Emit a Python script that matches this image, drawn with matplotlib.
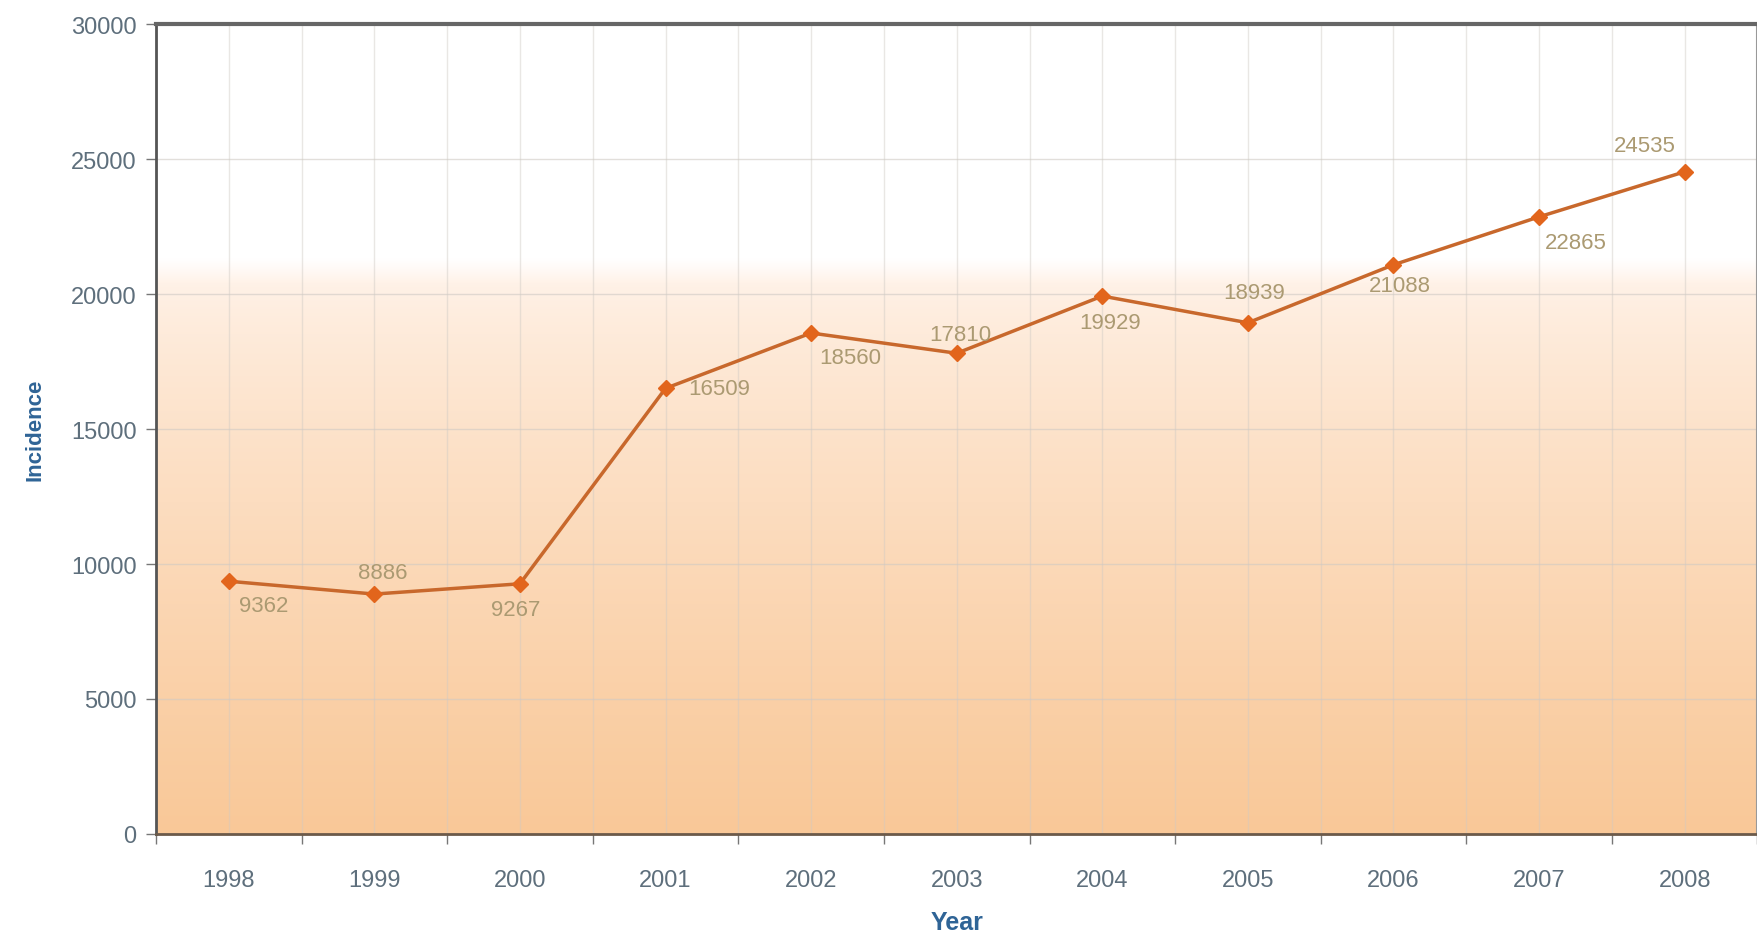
import numpy as np
import matplotlib
matplotlib.use('Agg')
import matplotlib.pyplot as plt

# data
years = ['1998', '1999', '2000', '2001', '2002', '2003', '2004', '2005', '2006', '2007', '2008']
incidence = [9362, 8886, 9267, 16509, 18560, 17810, 19929, 18939, 21088, 22865, 24535]
yticks = [0, 5000, 10000, 15000, 20000, 25000, 30000]
# label offsets in pixels (dx, dy), dy positive = up
label_offsets = [(35, -24), (8, 22), (-4, -26), (54, 0), (39, -24), (4, 19),
                 (8, -26), (6, 30), (6, -21), (37, -26), (-40, 26)]

plt.rcParams['font.family'] = ['Liberation Sans', 'DejaVu Sans']

fig = plt.figure(figsize=(17.58, 9.37), dpi=100)
ax = fig.add_axes([0.0887, 0.109, 0.911, 0.864])

x = np.arange(len(years))
ax.set_xlim(-0.5, len(years) - 0.5)
ax.set_ylim(0, 30000)

# background gradient: white on top, peach towards the bottom
top_col = np.array([255, 242, 232]) / 255.0
bot_col = np.array([249, 200, 152]) / 255.0
fade_top = 21300
soft = 900
n = 600
grad = np.zeros((n, 2, 3))
vals = np.linspace(30000, 0, n)
for i, v in enumerate(vals):
    if v > fade_top:
        grad[i, :, :] = 1.0
    elif v > fade_top - soft:
        s = (fade_top - v) / soft
        grad[i, :, :] = 1.0 * (1 - s) + top_col * s
    else:
        t = (fade_top - soft - v) / (fade_top - soft)
        t = t ** 0.75
        grad[i, :, :] = top_col * (1 - t) + bot_col * t
ax.imshow(grad, extent=(-0.5, len(years) - 0.5, 0, 30000), aspect='auto',
          interpolation='bilinear', zorder=0)

# grid
for gx in np.arange(-0.5, len(years), 0.5):
    ax.axvline(gx, color='#cfcac4', lw=1, alpha=0.45, zorder=1)
for gy in yticks[1:-1]:
    ax.axhline(gy, color='#cfcac4', lw=1, alpha=0.6, zorder=1)

ax.plot(x, incidence, color='#c8682c', lw=2.5, marker='D', markersize=8,
        markerfacecolor='#e2651c', markeredgecolor='#e2651c', zorder=3)

for xi, v, (dx, dy) in zip(x, incidence, label_offsets):
    ax.annotate(str(v), (xi, v), xytext=(dx, dy), textcoords='offset pixels',
                ha='center', va='center', fontsize=16, color='#ab9a72', zorder=4)

# ticks: marks between categories, labels at centers
ax.set_xticks(np.arange(-0.5, len(years), 1.0))
ax.set_xticklabels([])
ax.set_xticks(x, minor=True)
ax.set_xticklabels(years, minor=True)
ax.tick_params(axis='x', which='major', direction='out', length=7, width=1, color='#777777')
ax.tick_params(axis='x', which='minor', length=0, pad=25, labelsize=17, labelcolor='#5e6f7c')
ax.set_yticks(yticks)
ax.set_yticklabels([str(t) for t in yticks])
ax.tick_params(axis='y', direction='out', length=7, width=1, color='#777777',
               pad=7, labelsize=17, labelcolor='#5e6f7c')

ax.spines['left'].set_color('#555555')
ax.spines['left'].set_linewidth(2)
ax.spines['top'].set_color('#666666')
ax.spines['top'].set_linewidth(3)
ax.spines['bottom'].set_color('#6b5a4a')
ax.spines['bottom'].set_linewidth(2)
ax.spines['right'].set_color('#999999')
ax.spines['right'].set_linewidth(1.5)

ax.set_xlabel('Year', fontsize=18, fontweight='bold', color='#2f6496', labelpad=14)
ax.set_ylabel('Incidence', fontsize=16, fontweight='bold', color='#2f6496', labelpad=18)

fig.savefig('out.png', dpi=100)
